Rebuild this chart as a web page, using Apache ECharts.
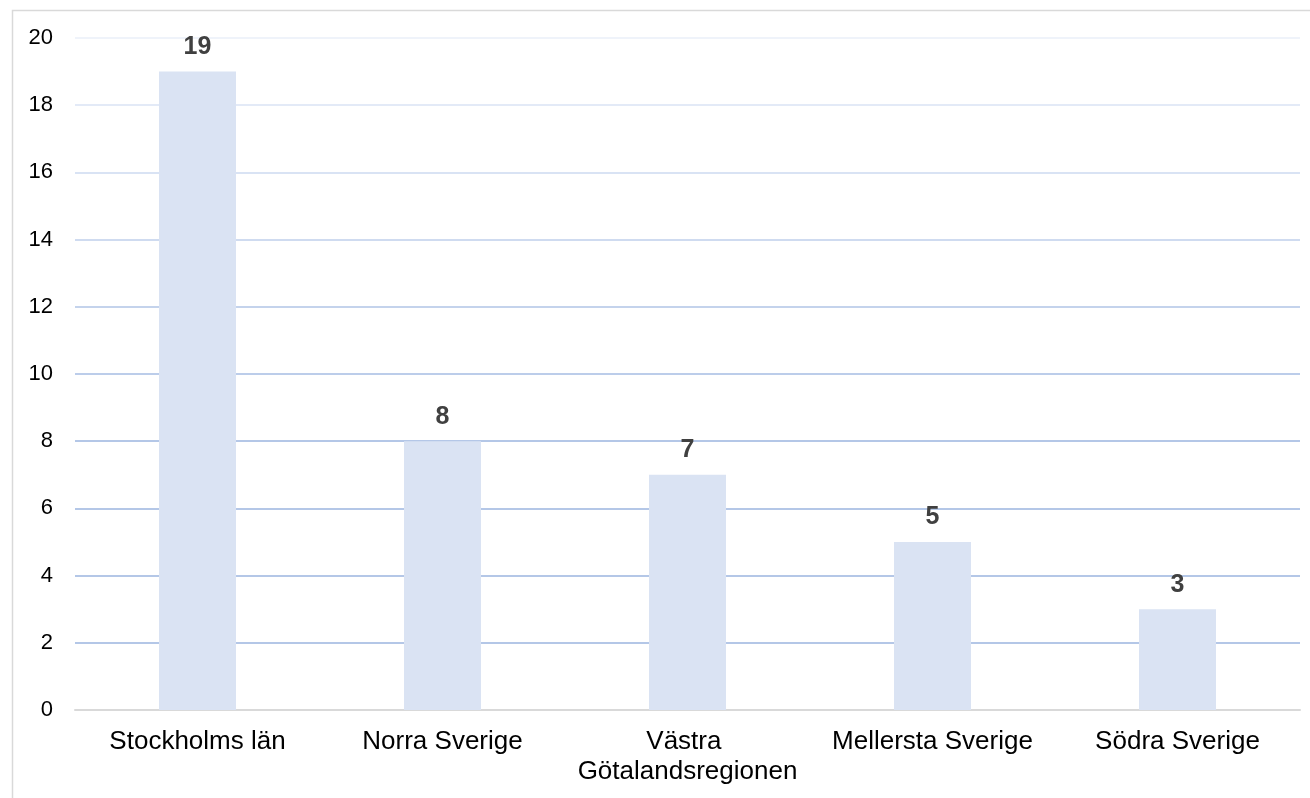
<!DOCTYPE html>
<html>
<head>
<meta charset="utf-8">
<script src="https://cdn.jsdelivr.net/npm/echarts@6/dist/echarts.min.js"></script>
<style>
html,body{margin:0;padding:0;background:#fff;}
#chart{width:1310px;height:798px;}
</style>
</head>
<body>
<div id="chart"></div>
<script>
const categories = ["Stockholms län", "Norra Sverige", "Västra Götalandsregionen", "Mellersta Sverige", "Södra Sverige"];
const values = [19, 8, 7, 5, 3];
const yTicks = [0, 2, 4, 6, 8, 10, 12, 14, 16, 18, 20];

const gridColors = ['#d9d9d9', '#b4c7e7', '#b4c7e7', '#b4c7e7', '#b4c7e7', '#bccdea', '#c4d3ec', '#cfdbf0', '#d9e3f4', '#e3eaf7', '#eff3fa'];

const chart = echarts.init(document.getElementById('chart'));
chart.setOption({
  animation: false,
  backgroundColor: '#fff',
  graphic: [{
    type: 'rect', left: 10, top: 8, silent: true,
    shape: { width: 1310, height: 800 },
    style: { fill: 'none', stroke: '#d9d9d9', lineWidth: 1.5 }
  }],
  grid: { left: 75, right: 10, top: 38, bottom: 88 },
  xAxis: {
    type: 'category',
    data: categories,
    axisLine: { show: true, lineStyle: { color: '#d9d9d9', width: 2 } },
    axisTick: { show: false },
    axisLabel: {
      interval: 0,
      color: '#000', fontSize: 26, fontFamily: 'Liberation Sans, Arial, sans-serif',
      margin: 17, width: 240, overflow: 'break', lineHeight: 30
    }
  },
  yAxis: {
    type: 'value',
    min: yTicks[0], max: yTicks[yTicks.length - 1], interval: 2,
    axisLine: { show: false },
    axisTick: { show: false },
    axisLabel: { color: '#000', fontSize: 22, fontFamily: 'Liberation Sans, Arial, sans-serif', margin: 22 },
    splitLine: { show: true, lineStyle: { color: gridColors, width: 2 } }
  },
  series: [{
    type: 'bar',
    data: values,
    barWidth: 77,
    itemStyle: { color: '#dae3f3' },
    label: {
      show: true, position: 'top', distance: 12,
      color: '#404040', fontSize: 25, fontWeight: 'bold',
      fontFamily: 'Liberation Sans, Arial, sans-serif'
    }
  }]
});
</script>
</body>
</html>
